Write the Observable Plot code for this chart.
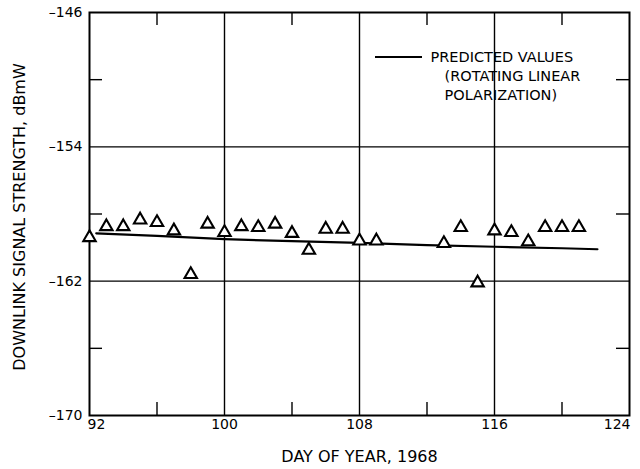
<!DOCTYPE html>
<html>
<head>
<meta charset="utf-8">
<script src="https://cdn.jsdelivr.net/npm/d3@7"></script>
<script src="https://cdn.jsdelivr.net/npm/@observablehq/plot@0.6"></script>
<style>
  body { margin: 0; background: #fff; }
  #chart svg { display: block; }
</style>
</head>
<body>
<div id="chart"></div>
<script>
// Measured downlink signal strength (dBmW) by day of year, 1968
const days = [92, 93, 94, 95, 96, 97, 98, 99, 100, 101, 102, 103, 104, 105, 106, 107, 108, 109,
              113, 114, 115, 116, 117, 118, 119, 120, 121];
const measured = [-159.4, -158.75, -158.75, -158.35, -158.5, -159.0, -161.6, -158.6, -159.1, -158.75,
                  -158.8, -158.6, -159.15, -160.15, -158.9, -158.9, -159.6, -159.6,
                  -159.75, -158.8, -162.1, -159.0, -159.1, -159.65, -158.8, -158.8, -158.8];

// Predicted values for rotating linear polarization
const predictedDays = [92.4, 96, 100, 104, 108, 112, 116, 120, 122.1];
const predictedValues = [-159.15, -159.3, -159.5, -159.62, -159.72, -159.85, -159.95, -160.04, -160.1];

// Axis ticks, grid and labels
const xTickLabels = [92, 100, 108, 116, 124];
const yTickLabels = [-170, -162, -154, -146];
const xGrid = [100, 108, 116];
const yGrid = [-162, -154];
const xMinor = [96, 104, 112, 120];
const yMinor = [-166, -158, -150];
const xTitle = "DAY OF YEAR, 1968";
const yTitle = "DOWNLINK SIGNAL STRENGTH, dBmW";
const legendLines = ["PREDICTED VALUES", "(ROTATING LINEAR", "POLARIZATION)"];

const W = 640, H = 469;
const mL = 89, mR = 11, mT = 12, mB = 54;
const innerW = W - mL - mR, innerH = H - mT - mB;
const minorLen = 13;
const font = "DejaVu Sans";

const measuredData = days.map((d, i) => ({day: d, dbm: measured[i]}));
const predicted = predictedDays.map((d, i) => ({day: d, dbm: predictedValues[i]}));

const ink = {stroke: "#000", strokeOpacity: 1};
const fmtY = d => "\u2013" + Math.abs(d);
const legendText = {frameAnchor: "top-left", textAnchor: "start", lineAnchor: "middle",
                    fontSize: 14.5, fill: "#000"};

const chart = Plot.plot({
  width: W,
  height: H,
  marginLeft: mL,
  marginRight: mR,
  marginTop: mT,
  marginBottom: mB,
  x: {domain: [92, 124]},
  y: {domain: [-170, -146]},
  style: {fontFamily: font, fontSize: "14px", color: "#000", background: "#fff"},
  marks: [
    Plot.gridX(xGrid, {...ink, strokeWidth: 1.4}),
    Plot.gridY(yGrid, {...ink, strokeWidth: 1.4}),
    // short inward ticks between the grid lines
    Plot.tickX(xMinor, {...ink, strokeWidth: 1.4, insetTop: innerH - minorLen}),
    Plot.tickX(xMinor, {...ink, strokeWidth: 1.4, insetBottom: innerH - minorLen}),
    Plot.tickY(yMinor, {...ink, strokeWidth: 1.4, insetRight: innerW - minorLen}),
    Plot.tickY(yMinor, {...ink, strokeWidth: 1.4, insetLeft: innerW - minorLen}),
    Plot.frame({...ink, strokeWidth: 2}),
    Plot.line(predicted, {x: "day", y: "dbm", ...ink, strokeWidth: 2.2}),
    Plot.dot(measuredData, {x: "day", y: "dbm", symbol: "triangle", r: 4.6,
                            fill: "#fff", ...ink, strokeWidth: 2.1}),
    Plot.axisY(yTickLabels, {tickSize: 0, tickPadding: 7, label: null, tickFormat: fmtY,
                             fontSize: 14}),
    Plot.axisX(xTickLabels.slice(0, 1), {tickSize: 0, tickPadding: 4, label: null,
                                         textAnchor: "start", dx: -2, fontSize: 14}),
    Plot.axisX(xTickLabels.slice(1, -1), {tickSize: 0, tickPadding: 4, label: null, fontSize: 14}),
    Plot.axisX(xTickLabels.slice(-1), {tickSize: 0, tickPadding: 4, label: null,
                                       textAnchor: "end", dx: 1, fontSize: 14}),
    Plot.text([xTitle], {frameAnchor: "bottom", textAnchor: "middle", lineAnchor: "middle",
                         dy: 41, fontSize: 16, fill: "#000"}),
    Plot.text([yTitle], {frameAnchor: "left", textAnchor: "middle", lineAnchor: "middle",
                         rotate: -90, dx: -70, dy: 3, fontSize: 16, fill: "#000"}),
    // legend text
    Plot.text(legendLines.slice(0, 1), {...legendText, dx: 341, dy: 45}),
    Plot.text(legendLines.slice(1, 2), {...legendText, dx: 355, dy: 64}),
    Plot.text(legendLines.slice(2, 3), {...legendText, dx: 355, dy: 83})
  ]
});

// legend line sample, placed left of the legend text
d3.select(chart).append("line")
  .attr("x1", mL + 286).attr("x2", mL + 333)
  .attr("y1", mT + 45).attr("y2", mT + 45)
  .attr("stroke", "#000").attr("stroke-width", 2.2);

document.getElementById("chart").append(chart);
</script>
</body>
</html>
